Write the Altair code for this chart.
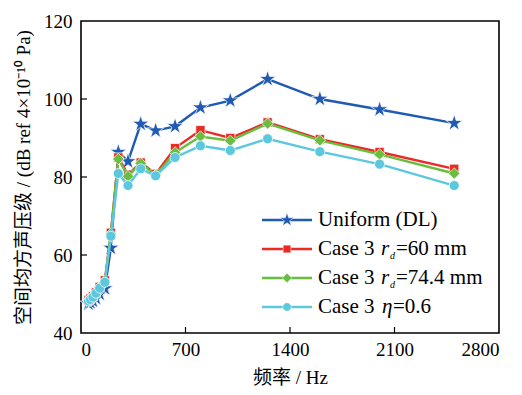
import altair as alt
import pandas as pd

# ---- data ----
freqs = [50, 63, 80, 100, 125, 160, 200, 250, 315, 400, 500, 630, 800, 1000, 1250, 1600, 2000, 2500]
uniform_dl = [47.5, 47.8, 48.2, 48.9, 50.0, 51.4, 61.8, 86.4, 84.0, 93.6, 91.9, 93.0, 97.8, 99.6, 105.1, 100.0, 97.3, 93.8]
case3_rd60 = [48.4, 48.8, 49.4, 50.4, 51.8, 53.5, 65.7, 85.0, 80.6, 83.7, 80.8, 87.4, 92.0, 90.0, 94.0, 89.7, 86.4, 82.1]
case3_rd744 = [48.3, 48.7, 49.3, 50.3, 51.7, 53.3, 65.4, 84.6, 80.2, 83.5, 80.5, 86.3, 90.4, 89.3, 93.7, 89.4, 85.8, 80.9]
case3_eta06 = [48.2, 48.6, 49.2, 50.2, 51.5, 53.0, 64.8, 80.9, 77.8, 82.1, 80.3, 85.0, 88.0, 86.8, 89.8, 86.5, 83.3, 77.8]

series_names = ["Uniform (DL)", "Case 3 rd=60 mm", "Case 3 rd=74.4 mm", "Case 3 eta=0.6"]
series_values = [uniform_dl, case3_rd60, case3_rd744, case3_eta06]
x_ticks = [0, 700, 1400, 2100, 2800]
y_ticks = [40, 60, 80, 100, 120]

# ---- styles ----
colors = ["#1f5ab3", "#ec2a24", "#69bd3f", "#5cc8de"]
STAR = "M0,-1L0.223,-0.307L0.951,-0.309L0.361,0.117L0.588,0.809L0,0.38L-0.588,0.809L-0.361,0.117L-0.951,-0.309L-0.223,-0.307Z"
shapes = [STAR, "square", "diamond", "circle"]
sizes = [300, 85, 130, 100]
SERIF = "Liberation Serif"
MIXED = "Liberation Serif, Noto Sans CJK SC"

W, H = 418, 312

rows = []
for name, vals in zip(series_names, series_values):
    for f, v in zip(freqs, vals):
        rows.append({"series": name, "freq": f, "level": v})
df = pd.DataFrame(rows)

xscale = alt.Scale(domain=[0, 2800], nice=False)
yscale = alt.Scale(domain=[40, 120], nice=False)

xaxis = alt.Axis(values=x_ticks, format="d", title="频率 / Hz", grid=False, ticks=False, domain=False,
                 labelPadding=7, titlePadding=9)
yaxis = alt.Axis(values=y_ticks, format="d", title="空间均方声压级 / (dB ref 4×10⁻¹⁰ Pa)", grid=False,
                 ticks=False, domain=False, labelPadding=9, titlePadding=10)

xenc = alt.X("freq:Q", scale=xscale, axis=xaxis)
yenc = alt.Y("level:Q", scale=yscale, axis=yaxis)

base = alt.Chart(df)
layers = []

for name, col, shp, sz in zip(series_names, colors, shapes, sizes):
    sub = base.transform_filter(alt.datum.series == name)
    layers.append(sub.mark_line(color=col, strokeWidth=2.4).encode(x=xenc, y=yenc))
    layers.append(sub.mark_point(shape=shp, filled=True, fill=col, size=sz, stroke="white",
                                 strokeWidth=0.7, opacity=1).encode(x=xenc, y=yenc))

# inward tick marks
xt = alt.Chart(pd.DataFrame({"freq": x_ticks[1:-1]})).mark_rule(color="black", strokeWidth=1.2).encode(
    x=alt.X("freq:Q", scale=xscale, axis=xaxis), y=alt.value(H), y2=alt.value(H - 6))
yt = alt.Chart(pd.DataFrame({"level": y_ticks[1:-1]})).mark_rule(color="black", strokeWidth=1.2).encode(
    y=alt.Y("level:Q", scale=yscale, axis=yaxis), x=alt.value(0), x2=alt.value(6))
layers += [xt, yt]

# ---- legend (drawn inside the plot, bottom right) ----
LX0, LX1, LM, LT = 181, 231, 206, 237
row_y = [199, 228, 257, 286]
FS = 21
for i, (col, shp, sz) in enumerate(zip(colors, shapes, sizes)):
    y = row_y[i]
    layers.append(alt.Chart(pd.DataFrame({"a": [0]})).mark_rule(color=col, strokeWidth=2.4).encode(
        x=alt.value(LX0), x2=alt.value(LX1), y=alt.value(y)))
    layers.append(alt.Chart(pd.DataFrame({"a": [0]})).mark_point(
        shape=shp, filled=True, fill=col, size=sz * 0.7, opacity=1, stroke="white", strokeWidth=0.5).encode(
        x=alt.value(LM), y=alt.value(y)))

def txt(s, x, y, size=FS, style="normal"):
    return alt.Chart(pd.DataFrame({"a": [0]})).mark_text(
        text=s, font=SERIF, fontSize=size, fontStyle=style, align="left", baseline="middle",
        color="black").encode(x=alt.value(x), y=alt.value(y))

layers.append(txt("Uniform (DL)", LT, row_y[0]))
for i, rest in [(1, "=60 mm"), (2, "=74.4 mm")]:
    layers.append(txt("Case 3", LT, row_y[i]))
    layers.append(txt("r", 300, row_y[i], style="italic"))
    layers.append(txt("d", 309, row_y[i] + 7, size=10, style="italic"))
    layers.append(txt(rest, 315, row_y[i]))
layers.append(txt("Case 3", LT, row_y[3]))
layers.append(txt("η", 301, row_y[3], style="italic"))
layers.append(txt("=0.6", 312, row_y[3]))

chart = alt.layer(*layers).properties(
    width=W, height=H,
    autosize=alt.AutoSizeParams(type="none"),
    padding={"left": 81, "top": 21, "right": 23, "bottom": 62},
    background="white",
).configure_view(stroke="black", strokeWidth=1.6).configure_axis(
    labelFont=SERIF, labelFontSize=19, labelColor="black",
    titleFont=MIXED, titleFontSize=19, titleColor="black", titleFontWeight="normal",
)

chart.save("out.html", embed_options={"renderer": "svg", "actions": False})
